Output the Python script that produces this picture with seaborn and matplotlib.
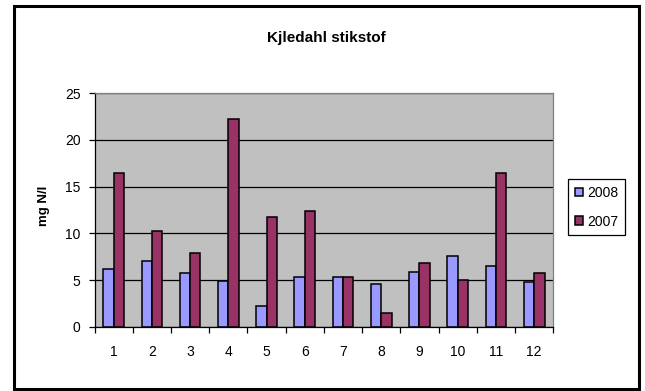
import matplotlib
matplotlib.use("Agg")
import matplotlib.pyplot as plt
from matplotlib.patches import Rectangle
from matplotlib.ticker import FixedLocator
import numpy as np
import pandas as pd
import seaborn as sns

# Monthly Kjeldahl nitrogen (mg N/l)
months = ["1", "2", "3", "4", "5", "6", "7", "8", "9", "10", "11", "12"]
years = ["2008", "2007"]
n_2008 = [6.15, 7.0, 5.7, 4.9, 2.25, 5.35, 5.35, 4.55, 5.9, 7.55, 6.55, 4.75]
n_2007 = [16.5, 10.3, 7.9, 22.2, 11.8, 12.4, 5.35, 1.45, 6.85, 4.95, 16.5, 5.75]
y_ticks = [0, 5, 10, 15, 20, 25]

df = pd.DataFrame({
    "month": months * 2,
    "value": n_2008 + n_2007,
    "year": [years[0]] * len(months) + [years[1]] * len(months),
})

sns.set_theme(style="white")
plt.rcParams["font.family"] = ["Liberation Sans", "DejaVu Sans"]

W, H = 645, 391
fig = plt.figure(figsize=(W / 100, H / 100), dpi=100)
fig.patch.set_facecolor("white")

ax = fig.add_axes([94.5 / W, 1 - 326.7 / H, (553.3 - 94.5) / W, (326.7 - 93.3) / H])
ax.set_facecolor("#C0C0C0")
ax.set_axisbelow(True)

sns.barplot(
    data=df, x="month", y="value", hue="year", hue_order=years, order=months,
    palette=["#9999FF", "#993366"], saturation=1, width=0.54,
    edgecolor="black", linewidth=1.1, ax=ax,
)

ax.set_xlim(-0.5, len(months) - 0.5)
ax.set_ylim(0, 25)
ax.set_yticks(y_ticks)
ax.set_yticklabels([str(t) for t in y_ticks])
ax.yaxis.grid(True, color="black", linewidth=0.9)
ax.xaxis.grid(False)

# category labels at centers, tick marks on the boundaries
ax.set_xticks(range(len(months)))
ax.set_xticklabels(months)
ax.tick_params(axis="x", which="major", length=0, pad=13, labelsize=10, colors="black")
ax.xaxis.set_minor_locator(FixedLocator(np.arange(-0.5, len(months), 1.0)))
ax.tick_params(axis="x", which="minor", bottom=True, length=4, width=0.9, color="black")
ax.tick_params(axis="y", left=True, length=4, width=0.9, color="black",
               labelsize=10, labelcolor="black", pad=6)

for side in ["top", "right"]:
    ax.spines[side].set_color("#808080")
    ax.spines[side].set_linewidth(0.9)
for side in ["left", "bottom"]:
    ax.spines[side].set_color("black")
    ax.spines[side].set_linewidth(0.9)

ax.set_xlabel("")
ax.set_ylabel("mg N/l", fontsize=9.5, fontweight="bold", color="black")
ax.yaxis.set_label_coords(-0.098, 0.52)

fig.text(326 / W, 1 - 38 / H, "Kjledahl stikstof", ha="center", va="center",
         fontsize=11, fontweight="bold", color="black")

handles, labels = ax.get_legend_handles_labels()
leg = ax.legend(
    handles, labels, loc="upper left",
    bbox_to_anchor=(568 / W, 1 - 179 / H), bbox_transform=fig.transFigure,
    borderaxespad=0, frameon=True, fancybox=False, framealpha=1,
    edgecolor="black", fontsize=10, handlelength=0.6, handleheight=0.6,
    handletextpad=0.25, labelspacing=1.05, borderpad=0.5,
)
leg.get_frame().set_linewidth(0.9)
for t in leg.get_texts():
    t.set_color("black")

# outer chart frame
fig.patches.append(Rectangle((13.5 / W, 1 - 389 / H), (638.5 - 13.5) / W, (389 - 6) / H,
                             transform=fig.transFigure, fill=False,
                             edgecolor="black", linewidth=2.2))

fig.savefig("out.png", dpi=100, facecolor="white")
